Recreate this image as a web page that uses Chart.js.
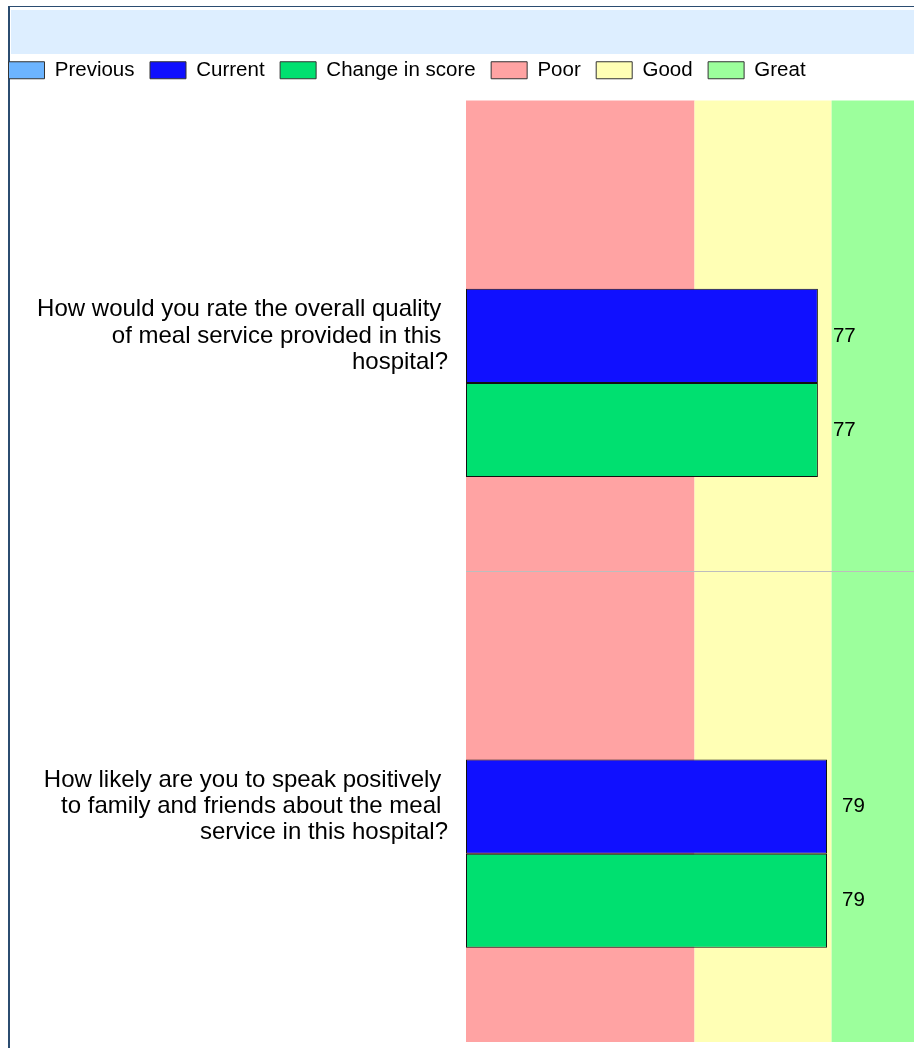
<!DOCTYPE html>
<html>
<head>
<meta charset="utf-8">
<script src="https://cdn.jsdelivr.net/npm/chart.js@4.4.1/dist/chart.umd.min.js"></script>
<style>
  html, body { margin: 0; padding: 0; background: #fff; overflow: hidden; width: 914px; height: 1048px; }
  #frame { position: absolute; left: 8px; top: 6px; width: 910px; height: 1050px;
           border-left: 2px solid #2b4c70; border-top: 1px solid #2b4c70; }
  #header { position: absolute; left: 11px; top: 10px; width: 910px; height: 44px; background: #ddeeff; }
  #chart { position: absolute; left: -7px; top: 0; }
</style>
</head>
<body>
<div id="frame"></div>
<div id="header"></div>
<canvas id="chart" width="945" height="1048"></canvas>
<script>
// questions (y axis), already broken into lines like the original
const questions = [
  ['How would you rate the overall quality ', 'of meal service provided in this ', 'hospital?'],
  ['How likely are you to speak positively ', 'to family and friends about the meal ', 'service in this hospital?']
];

const previousScores = [null, null];
const currentScores = [77, 79];
const changeScores = [77, 79];

// score bands drawn behind the bars
const bandNames = ['Poor', 'Good', 'Great'];
const bandLimits = [0, 50, 80, 100];
const bandColors = ['#ffa3a3', '#ffffb5', '#9cff9c'];

const seriesColors = { Previous: '#6cb4ff', Current: '#1010ff', Change: '#00e070' };

Chart.defaults.font.family = 'Arial, "Liberation Sans", sans-serif';
Chart.defaults.color = '#000';

// paint the Poor / Good / Great zones from the x scale
const bandsPlugin = {
  id: 'bands',
  beforeDraw(chart) {
    const { ctx, chartArea, scales } = chart;
    ctx.save();
    for (let i = 0; i < bandNames.length; i++) {
      const x1 = scales.x.getPixelForValue(bandLimits[i]);
      const x2 = scales.x.getPixelForValue(bandLimits[i + 1]);
      ctx.fillStyle = bandColors[i];
      ctx.fillRect(x1, chartArea.top, x2 - x1, chartArea.bottom - chartArea.top);
    }
    ctx.restore();
  }
};

// numbers to the right of each bar
const valueLabels = {
  id: 'valueLabels',
  afterDatasetsDraw(chart) {
    const { ctx } = chart;
    ctx.save();
    ctx.font = '20.5px Arial, "Liberation Sans", sans-serif';
    ctx.fillStyle = '#000';
    ctx.textAlign = 'left';
    ctx.textBaseline = 'middle';
    chart.data.datasets.forEach((ds, di) => {
      chart.getDatasetMeta(di).data.forEach((bar, i) => {
        const v = ds.data[i];
        if (v == null) return;
        ctx.fillText(String(v), bar.x + 15, bar.y);
      });
    });
    ctx.restore();
  }
};

new Chart(document.getElementById('chart'), {
  type: 'bar',
  data: {
    labels: questions,
    datasets: [
      { label: 'Previous', data: previousScores, backgroundColor: seriesColors.Previous },
      { label: 'Current', data: currentScores, backgroundColor: seriesColors.Current },
      { label: 'Change in score', data: changeScores, backgroundColor: seriesColors.Change }
    ]
  },
  options: {
    indexAxis: 'y',
    responsive: false,
    animation: false,
    devicePixelRatio: 1,
    layout: { padding: { top: 44.5, left: 0, right: 15, bottom: 6 } },
    datasets: {
      bar: {
        categoryPercentage: 0.6,
        barPercentage: 1,
        borderWidth: 1,
        borderColor: '#111',
        borderSkipped: false
      }
    },
    plugins: {
      tooltip: { enabled: false },
      legend: {
        position: 'top',
        align: 'start',
        labels: {
          boxWidth: 36,
          boxHeight: 17,
          padding: 15.5,
          font: { size: 20.5 },
          color: '#000',
          generateLabels(chart) {
            const items = chart.data.datasets.map((ds, i) => ({
              text: ds.label,
              fillStyle: ds.backgroundColor,
              strokeStyle: '#333',
              lineWidth: 1,
              hidden: false,
              datasetIndex: i
            }));
            bandNames.forEach((name, i) => items.push({
              text: name,
              fillStyle: bandColors[i],
              strokeStyle: '#333',
              lineWidth: 1,
              hidden: false
            }));
            return items;
          }
        }
      }
    },
    scales: {
      x: {
        position: 'top',
        min: 0,
        max: 100,
        ticks: { display: false },
        grid: { display: false, drawTicks: false },
        border: { display: false },
        afterFit(scale) { scale.height = 10; }
      },
      y: {
        ticks: {
          padding: 18,
          autoSkip: false,
          color: '#000',
          font: { size: 24, lineHeight: 1.0834 }
        },
        grid: {
          drawTicks: false,
          color: (c) => c.index === 1 ? '#bdbdbd' : 'rgba(0,0,0,0)'
        },
        border: { display: false },
        afterFit(scale) {
          scale.width = 473;
          // the wrapped labels should not shrink the plot area
          scale.paddingTop = 0;
          scale.paddingBottom = 0;
        }
      }
    }
  },
  plugins: [bandsPlugin, valueLabels]
});
</script>
</body>
</html>
